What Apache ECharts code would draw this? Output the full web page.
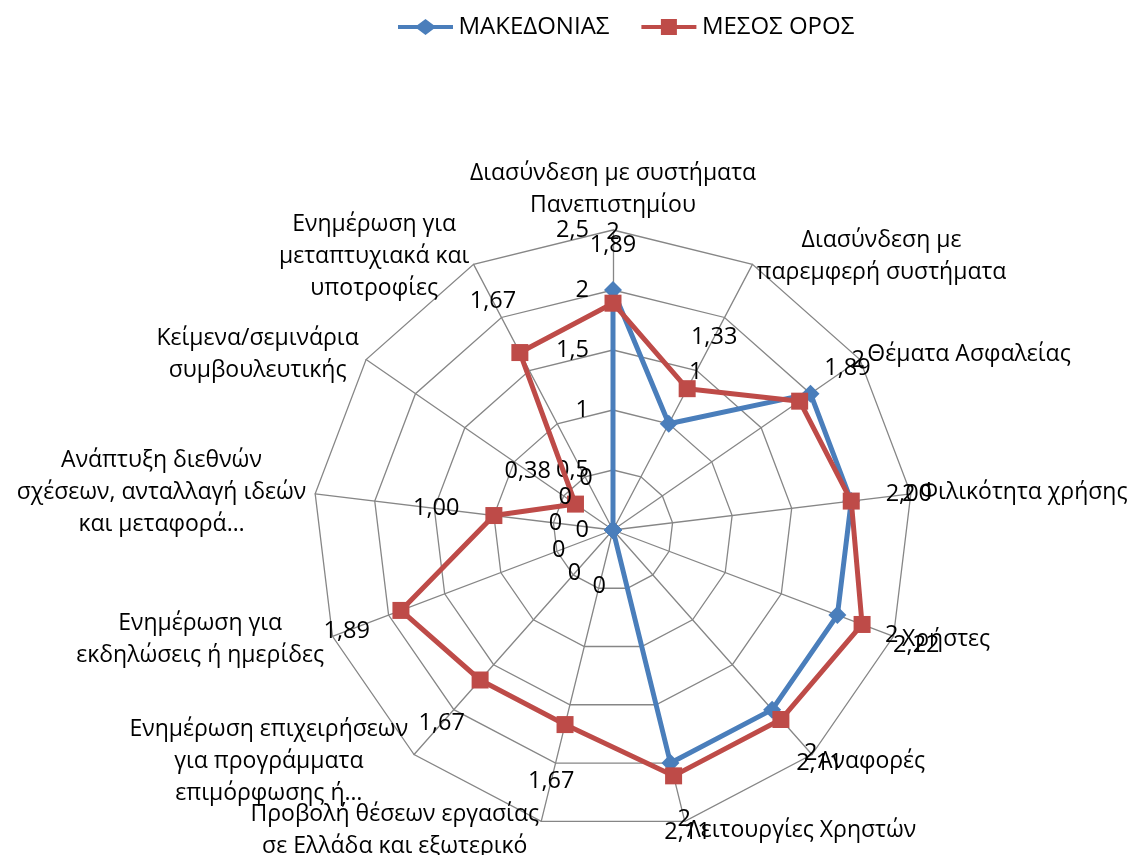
<!DOCTYPE html>
<html>
<head>
<meta charset="utf-8">
<script src="https://cdn.jsdelivr.net/npm/echarts@6/dist/echarts.min.js"></script>
<style>
  html, body { margin: 0; padding: 0; background: #fff; }
  #chart { width: 1132px; height: 855px; }
</style>
</head>
<body>
<div id="chart"></div>
<script>
// axes in clockwise order, starting at the top
const axisNames = [
  'Διασύνδεση με συστήματα\nΠανεπιστημίου',
  'Διασύνδεση με\nπαρεμφερή συστήματα',
  'Θέματα Ασφαλείας',
  'Φιλικότητα χρήσης',
  'Χρήστες',
  'Αναφορές',
  'Λειτουργίες Χρηστών',
  'Προβολή θέσεων εργασίας\nσε Ελλάδα και εξωτερικό',
  'Ενημέρωση επιχειρήσεων\nγια προγράμματα\nεπιμόρφωσης ή…',
  'Ενημέρωση για\nεκδηλώσεις ή ημερίδες',
  'Ανάπτυξη διεθνών\nσχέσεων, ανταλλαγή ιδεών\nκαι μεταφορά…',
  'Κείμενα/σεμινάρια\nσυμβουλευτικής',
  'Ενημέρωση για\nμεταπτυχιακά και\nυποτροφίες'
]
const seriesNames = ['ΜΑΚΕΔΟΝΙΑΣ', 'ΜΕΣΟΣ ΟΡΟΣ']
const makedonias = [2, 1, 2, 2, 2, 2, 2, 0, 0, 0, 0, 0, 0]
const mesosOros = [1.89, 1.33, 1.89, 2.00, 2.22, 2.11, 2.11, 1.67, 1.67, 1.89, 1.00, 0.38, 1.67]
const axisMax = 2.5

const FONT = '"Open Sans", sans-serif'
const FS = 23.5
const NAME_FS = 23
const center = [613, 530]
const radius = 300
const n = axisNames.length

const chart = echarts.init(document.getElementById('chart'))

// radar goes counter-clockwise, so feed the indicators in reverse (top stays first)
const radarOrder = [0]
for (let i = n - 1; i >= 1; i--) radarOrder.push(i)
const indicators = radarOrder.map((i, k) => {
  const ind = { name: axisNames[i], max: axisMax, min: 0 }
  if (k === 0) {
    ind.axisLabel = {
      show: true,
      color: '#000',
      fontSize: FS,
      fontFamily: FONT,
      margin: 24,
      formatter: v => String(v).replace('.', ',')
    }
  }
  return ind
})

// Excel puts the value labels a bit outside of the point, along the axis
const LABEL_DIST = 58
const buildData = (values, fmt) => {
  const data = values.map((v, i) => {
    const a = i * 2 * Math.PI / n
    return {
      value: [v, i],
      label: {
        formatter: fmt(v),
        offset: [LABEL_DIST * Math.sin(a), -LABEL_DIST * Math.cos(a)]
      }
    }
  })
  // close the loop
  data.push({ value: [values[0], n], symbol: 'none', label: { show: false } })
  return data
}

const diamondIcon = 'path://M0,6L19.5,6L27.5,0L35.5,6L55,6L55,10L35.5,10L27.5,16L19.5,10L0,10Z'
const squareIcon = 'path://M0,6L19.5,6L19.5,0L35.5,0L35.5,6L55,6L55,10L35.5,10L35.5,16L19.5,16L19.5,10L0,10Z'

const option = {
  animation: false,
  textStyle: { fontFamily: FONT },
  legend: {
    top: 10,
    left: 393,
    itemWidth: 56,
    itemHeight: 16,
    itemGap: 32,
    textStyle: { fontSize: 24, color: '#000', fontFamily: FONT },
    data: [
      { name: seriesNames[0], icon: diamondIcon },
      { name: seriesNames[1], icon: squareIcon }
    ]
  },
  radar: {
    center: center,
    radius: radius,
    startAngle: 90,
    shape: 'polygon',
    splitNumber: 5,
    nameGap: 9,
    axisName: {
      color: '#000',
      fontSize: NAME_FS,
      fontFamily: FONT,
      formatter: v => v.split('\n').map(s => '{c|' + s + '}').join('\n'),
      rich: {
        c: { align: 'center', fontSize: NAME_FS, fontFamily: FONT, color: '#000', lineHeight: 32 }
      }
    },
    axisLine: { lineStyle: { color: '#868686', width: 1.3 } },
    splitLine: { lineStyle: { color: '#868686', width: 1.3 } },
    splitArea: { show: false },
    axisTick: { show: false },
    axisLabel: { show: false },
    indicator: indicators
  },
  polar: {
    center: center,
    radius: radius
  },
  angleAxis: {
    type: 'value',
    min: 0,
    max: n,
    startAngle: 90,
    clockwise: true,
    show: false
  },
  radiusAxis: {
    type: 'value',
    min: 0,
    max: axisMax,
    show: false
  },
  series: [
    {
      name: seriesNames[0],
      type: 'line',
      coordinateSystem: 'polar',
      data: buildData(makedonias, v => String(v)),
      symbol: 'diamond',
      symbolSize: 18,
      lineStyle: { color: '#4A7EBB', width: 5 },
      itemStyle: { color: '#4A7EBB' },
      label: { show: true, position: 'inside', color: '#000', fontSize: FS, fontFamily: FONT }
    },
    {
      name: seriesNames[1],
      type: 'line',
      coordinateSystem: 'polar',
      data: buildData(mesosOros, v => v.toFixed(2).replace('.', ',')),
      symbol: 'rect',
      symbolSize: 17,
      lineStyle: { color: '#BE4B48', width: 5 },
      itemStyle: { color: '#BE4B48' },
      label: { show: true, position: 'inside', color: '#000', fontSize: FS, fontFamily: FONT }
    }
  ]
}

chart.setOption(option)
window.addEventListener('resize', () => chart.resize())
</script>
</body>
</html>
